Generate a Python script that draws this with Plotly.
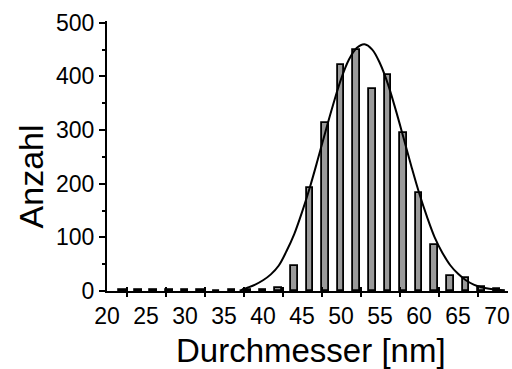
import plotly.graph_objects as go

# Histogram bins (bin centers, nm) and counts
bin_centers = [22, 24, 26, 28, 30, 32, 34, 36, 38, 40, 42, 44, 46, 48, 50, 52, 54, 56, 58, 60, 62, 64, 66, 68, 70]
counts = [1, 1, 1, 1, 1, 2, 0, 1, 1, 2, 6, 46, 192, 313, 422, 450, 377, 402, 295, 182, 85, 28, 25, 8, 3]

# Fitted curve
curve_x = [37, 38, 39, 40, 41, 42, 43, 44, 45, 46, 47, 48, 49, 50, 51, 52, 53,
           54, 55, 56, 57, 58, 59, 60, 61, 62, 63, 64, 65, 66, 67, 68, 69, 70, 71]
curve_y = [0.5, 6, 12, 20, 31, 47, 74, 106, 147, 193, 244, 297, 348, 395, 431, 453, 460,
           450, 424, 386, 338, 286, 233, 183, 139, 100, 71, 48, 32, 20, 12, 7, 4, 2.2, 1.2]

x_tick_labels = [20, 25, 30, 35, 40, 45, 50, 55, 60, 65, 70]
x_tick_marks = [22.5, 27.5, 32.5, 37.5, 42.5, 47.5, 52.5, 57.5, 62.5, 67.5]
y_ticks = [0, 100, 200, 300, 400, 500]

FONT = "Arial, Liberation Sans, sans-serif"
XR = [20.0, 71.4]
YR = [0, 503.2]

fig = go.Figure()
fig.add_trace(go.Bar(x=bin_centers, y=counts, width=0.85,
                     marker=dict(color="#9a9a9a", line=dict(color="black", width=1.8)),
                     showlegend=False))
fig.add_trace(go.Scatter(x=curve_x, y=curve_y, mode="lines", line=dict(color="black", width=2, shape="spline"),
                         showlegend=False))

fig.update_layout(
    width=512, height=369,
    margin=dict(l=107, r=2, t=21, b=78),
    paper_bgcolor="white", plot_bgcolor="white",
    font=dict(family=FONT, color="black"),
    bargap=0,
    xaxis=dict(range=XR, tickmode="array", tickvals=x_tick_marks, showticklabels=False,
               ticks="outside", ticklen=4, tickwidth=2, tickcolor="black",
               showline=True, linecolor="black", linewidth=2, showgrid=False, zeroline=False),
    xaxis2=dict(range=XR, overlaying="x", anchor="y", side="bottom", tickmode="array",
                tickvals=x_tick_labels, ticktext=[str(v) for v in x_tick_labels],
                ticks="outside", ticklen=4, tickcolor="rgba(0,0,0,0)",
                tickfont=dict(size=23, family=FONT, color="black"),
                showline=False, showgrid=False, zeroline=False),
    xaxis3=dict(range=XR, overlaying="x", anchor="y", side="bottom", tickmode="array",
                tickvals=x_tick_marks, showticklabels=False,
                ticks="inside", ticklen=4, tickwidth=2, tickcolor="black",
                showline=False, showgrid=False, zeroline=False),
    yaxis=dict(range=YR, tickmode="array", tickvals=y_ticks, ticks="outside", ticklen=6, tickwidth=2,
               tickcolor="black", tickfont=dict(size=23, family=FONT, color="black"),
               minor=dict(tickvals=[50, 150, 250, 350, 450], ticks="outside", ticklen=3, tickwidth=2, tickcolor="black"),
               showline=True, linecolor="black", linewidth=2, showgrid=False, zeroline=False),
    annotations=[
        dict(text="Anzahl", xref="paper", yref="paper", x=(31 - 107) / 403, y=(291 - 176) / 270,
             xanchor="center", yanchor="middle", textangle=-90, showarrow=False,
             font=dict(size=34, family=FONT, color="black")),
        dict(text="Durchmesser [nm]", xref="paper", yref="paper", x=(312 - 107) / 403, y=(291 - 350) / 270,
             xanchor="center", yanchor="middle", showarrow=False,
             font=dict(size=33, family=FONT, color="black")),
    ],
)
# invisible traces so the overlay axes render
fig.add_trace(go.Scatter(x=[None], y=[None], xaxis="x2", showlegend=False, hoverinfo="skip"))
fig.add_trace(go.Scatter(x=[None], y=[None], xaxis="x3", showlegend=False, hoverinfo="skip"))

fig.write_html("out.html")
